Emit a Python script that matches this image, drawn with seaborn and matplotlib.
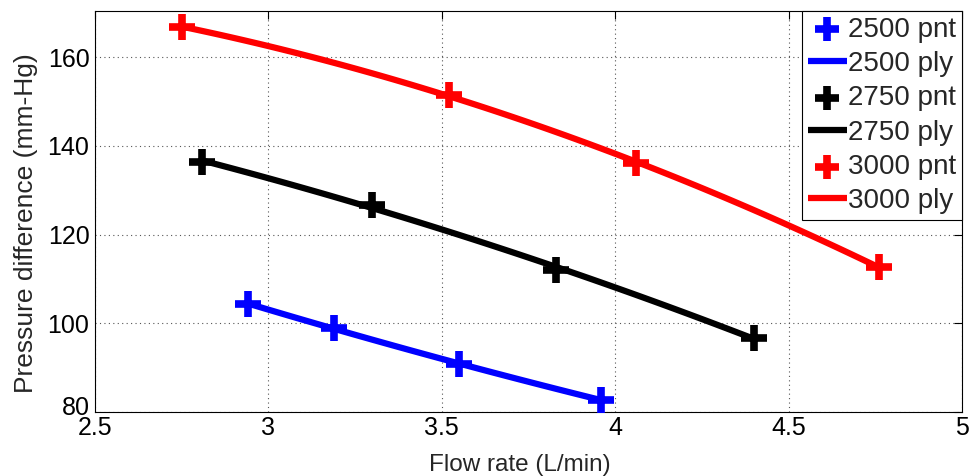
import matplotlib
matplotlib.use("Agg")
import matplotlib.pyplot as plt
import matplotlib.transforms as mtransforms
import seaborn as sns
import numpy as np
import pandas as pd

# Data
speeds = ["2500", "2750", "3000"]
colors = ["#0000ff", "#000000", "#ff0000"]
flow_2500 = [2.94, 3.19, 3.55, 3.96]
dp_2500 = [104.4, 98.9, 90.8, 82.7]
flow_2750 = [2.81, 3.30, 3.83, 4.40]
dp_2750 = [136.4, 126.7, 112.0, 96.7]
flow_3000 = [2.75, 3.52, 4.06, 4.76]
dp_3000 = [166.8, 151.5, 136.1, 112.7]

xticks = [2.5, 3, 3.5, 4, 4.5, 5]
yticks = [80, 100, 120, 140, 160]

sns.set_style("white")
plt.rcParams['font.family'] = ['Liberation Sans', 'DejaVu Sans']

fig = plt.figure(figsize=(9.72, 4.76), dpi=100)
ax = fig.add_axes([0.0977, 0.1345, 0.8920, 0.8425])

flows = [flow_2500, flow_2750, flow_3000]
dps = [dp_2500, dp_2750, dp_3000]
for spd, col, fx, dy in zip(speeds, colors, flows, dps):
    df = pd.DataFrame({"flow": fx, "dp": dy})
    sns.scatterplot(data=df, x="flow", y="dp", marker="+", s=340,
                    color=col, linewidth=5.5, ax=ax, label=f"{spd} pnt", zorder=4)
    sns.regplot(data=df, x="flow", y="dp", order=2, ci=None, scatter=False,
                color=col, line_kws={"linewidth": 4.5, "solid_capstyle": "butt"},
                ax=ax, label=f"{spd} ply")

ax.set_xlim(2.5, 5)
ax.set_ylim(80, 170.4)
ax.set_xticks(xticks)
ax.set_xticklabels([f"{t:g}" for t in xticks])
ax.set_yticks(yticks)
ax.grid(True, linestyle=(0, (1, 3)), color="#555555", linewidth=0.8)
ax.tick_params(direction="in", length=6, width=0.8, top=True, right=True,
               labelsize=18, colors="black")
ax.tick_params(axis="x", pad=3)
ax.tick_params(axis="y", pad=4)
ylbls = ax.get_yticklabels()
for lbl in ylbls:
    lbl.set_verticalalignment("center_baseline")
ylbls[0].set_transform(ylbls[0].get_transform() +
                       mtransforms.ScaledTranslation(0, 6 / 100, fig.dpi_scale_trans))
for sp in ax.spines.values():
    sp.set_color("black")
    sp.set_linewidth(0.8)
ax.set_xlabel("Flow rate (L/min)", fontsize=17.5)
ax.xaxis.set_label_coords(0.49, -0.105)
ax.set_ylabel("Pressure difference (mm-Hg)", fontsize=19)
ax.yaxis.set_label_coords(-0.066, 0.47)

leg = ax.legend(loc="upper right", fontsize=20, frameon=True, fancybox=False,
                edgecolor="black", framealpha=1, borderaxespad=0,
                handlelength=1.4, handletextpad=0.05, labelspacing=0.3,
                borderpad=0.2, markerscale=0.9)
leg.get_frame().set_linewidth(0.8)

fig.savefig("out.png", dpi=100)
